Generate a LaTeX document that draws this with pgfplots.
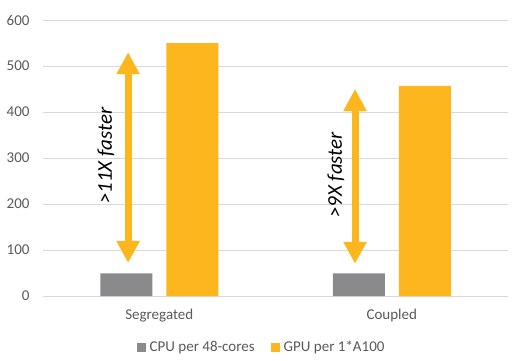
\documentclass[border=0pt]{standalone}
\usepackage{fontspec}
\setmainfont{Carlito}
\usepackage{pgfplots}
\pgfplotsset{compat=1.18}
\usetikzlibrary{arrows.meta}
\definecolor{cpugray}{RGB}{138,138,140}
\definecolor{gpuorange}{RGB}{253,182,30}
\definecolor{gridgray}{RGB}{217,217,217}
\definecolor{labelgray}{RGB}{89,89,89}
\begin{document}
\begin{tikzpicture}
\begin{axis}[
  at={(43pt,64pt)}, anchor=south west,
  scale only axis, width=465pt, height=276pt,
  xmin=-0.5, xmax=1.5, ymin=0, ymax=600,
  ytick={0,100,...,600},
  xtick={0,1}, xticklabels={Segregated,Coupled},
  axis line style={draw=none},
  major tick length=0pt,
  ymajorgrids, grid style={gridgray, line width=1pt},
  ticklabel style={font=\fontsize{15}{18}\selectfont, text=labelgray},
  /pgf/number format/assume math mode=true,
  yticklabel style={xshift=-10pt},
  xticklabel style={yshift=-10pt},
  ybar=14pt, bar width=52pt,
  legend columns=2,
  legend style={draw=none, at={(0.47,-0.185)}, anchor=center,
    font=\fontsize{15}{18}\selectfont, text=labelgray,
    /tikz/every even column/.append style={column sep=14pt}},
  legend image code/.code={\fill[#1] (0pt,-4.5pt) rectangle (9pt,4.5pt); \path (11pt,0pt);},
  clip=false,
]
\addplot[fill=cpugray, draw=none] coordinates {(0,49) (1,49)};
\addplot[fill=gpuorange, draw=none] coordinates {(0,550) (1,457)};
\legend{CPU per 48-cores, GPU per 1*A100}
\addplot[sharp plot, forget plot, gpuorange, line width=7pt,
  {Triangle[width=22pt,length=22pt]}-{Triangle[width=22pt,length=22pt]}]
  coordinates {(-0.134,72) (-0.134,530)};
\addplot[sharp plot, forget plot, gpuorange, line width=7pt,
  {Triangle[width=22pt,length=22pt]}-{Triangle[width=22pt,length=22pt]}]
  coordinates {(0.842,70) (0.842,450)};
\node[rotate=90, font=\fontsize{21}{25}\itshape\selectfont, text=black] at (axis cs:-0.229,305) {>11X faster};
\node[rotate=90, font=\fontsize{21}{25}\itshape\selectfont, text=black] at (axis cs:0.76,263) {>9X faster};
\end{axis}
\pgfresetboundingbox
\path[use as bounding box] (0,0) rectangle (518pt,360pt);
\end{tikzpicture}
\end{document}
